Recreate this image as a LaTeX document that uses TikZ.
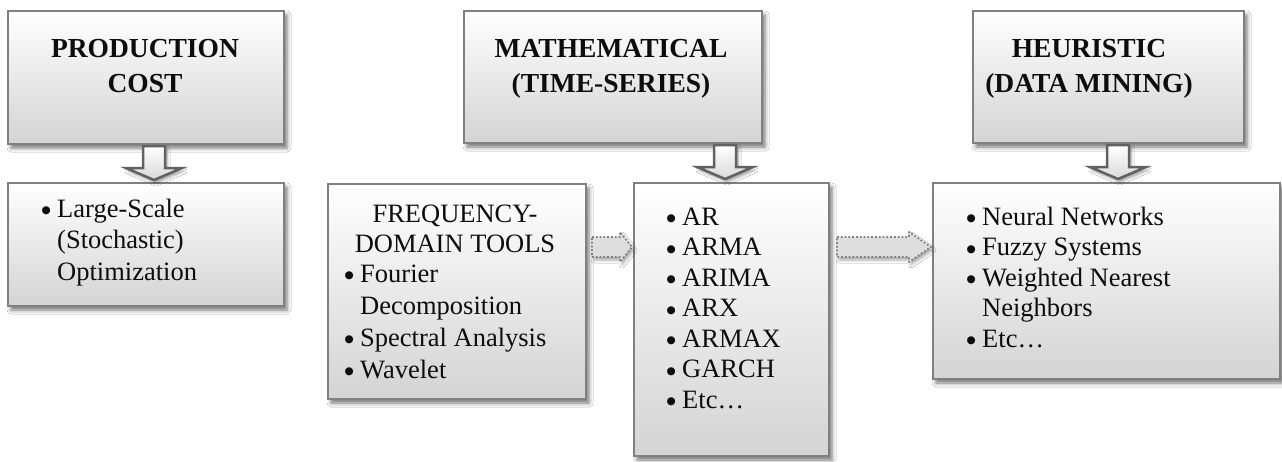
\documentclass[tikz,border=0pt]{standalone}
\usepackage{fontspec}
\setmainfont{Liberation Serif}
\newfontfamily\dvsans{DejaVu Sans}
\usetikzlibrary{shadows.blur,calc}
\newcommand{\fl}{\rule{0pt}{21pt}}
\newcommand{\bl}{\makebox[16pt][l]{\hspace*{0.5pt}\raisebox{3.5pt}{\dvsans\fontsize{10.5}{0}\selectfont ●}}}
\newcommand{\ind}{\hspace*{16pt}}
\begin{document}
\begin{tikzpicture}[x=1pt,y=-1pt,
  box/.style={draw=black!50, line width=2pt, top color=white, bottom color=black!17,
    blur shadow={shadow xshift=3pt, shadow yshift=-4pt, shadow blur radius=4pt, shadow opacity=55},
    inner sep=0pt, anchor=north west},
  ttl/.style={font=\fontsize{27.5}{35}\selectfont\bfseries, align=center, inner sep=0pt, anchor=north, text=black!95},
  lst/.style={font=\fontsize{26.5}{30.5}\selectfont, align=left, inner sep=0pt, anchor=north west, text=black!95},
  downarrow/.style={draw=black!62, line width=2.5pt, top color=white, bottom color=black!15, line join=miter,
    blur shadow={shadow xshift=2pt, shadow yshift=-3pt, shadow blur radius=3pt, shadow opacity=40}},
  dotarrow/.style={draw=black!50, dotted, line width=1.8pt, fill=black!13, line join=round,
    blur shadow={shadow xshift=2pt, shadow yshift=-3pt, shadow blur radius=3pt, shadow opacity=35}}]
\useasboundingbox (0,0) rectangle (1282,461);
\fill[white] (0,0) rectangle (1282,461);

% boxes
\node[box, minimum width=276pt, minimum height=133pt] (prod) at (7,10) {};
\node[box, minimum width=276pt, minimum height=123pt] (large) at (7,182) {};
\node[box, minimum width=298pt, minimum height=132pt] (math) at (463,10) {};
\node[box, minimum width=258pt, minimum height=215pt] (freq) at (327,183) {};
\node[box, minimum width=195pt, minimum height=273pt] (ar) at (633,182) {};
\node[box, minimum width=271pt, minimum height=132pt] (heur) at (972,10) {};
\node[box, minimum width=347pt, minimum height=196pt] (nn) at (932,182) {};

% titles
\node[ttl] (prodt) at (145,36) {\fl PRODUCTION\\COST};
\node[ttl] (matht) at (611,36) {\fl MATHEMATICAL\\(TIME-SERIES)};
\node[ttl] (heurt) at (1089,36) {\fl HEURISTIC\\(DATA MINING)};

% lists
\node[lst, font=\fontsize{26.5}{31.5}\selectfont] (largel) at (41,196) {\fl\bl Large-Scale\\\ind(Stochastic)\\\ind Optimization};
\node[lst, anchor=north, align=center] (freqh) at (455,201) {\fl FREQUENCY-\\DOMAIN TOOLS};
\node[lst, font=\fontsize{26.5}{32}\selectfont] (freql) at (344,261) {\fl\bl Fourier\\\ind Decomposition\\\bl Spectral Analysis\\\bl Wavelet};
\node[lst] (arl) at (666,204) {\fl\bl AR\\\bl ARMA\\\bl ARIMA\\\bl ARX\\\bl ARMAX\\\bl GARCH\\\bl Etc\dots};
\node[lst] (nnl) at (966,204) {\fl\bl Neural Networks\\\bl Fuzzy Systems\\\bl Weighted Nearest\\\ind Neighbors\\\bl Etc\dots};

% block arrows down
\draw[downarrow] ([xshift=8pt,yshift=-1pt]prod.south) ++(-11,0) -- ++(22,0) -- ++(0,22) -- ++(17,0) -- ++(-28,12) -- ++(-28,-12) -- ++(17,0) -- cycle;
\draw[downarrow] ([xshift=112pt,yshift=-1pt]math.south) ++(-11,0) -- ++(22,0) -- ++(0,22) -- ++(17,0) -- ++(-28,12) -- ++(-28,-12) -- ++(17,0) -- cycle;
\draw[downarrow] ([xshift=9.5pt,yshift=-1pt]heur.south) ++(-11,0) -- ++(22,0) -- ++(0,22) -- ++(17,0) -- ++(-28,12) -- ++(-28,-12) -- ++(17,0) -- cycle;

% dotted arrows
\draw[dotarrow] (freq.north east) ++(5,54) -- ++(28,0) -- ++(0,-5) -- ++(12,15) -- ++(-12,15) -- ++(0,-5) -- ++(-28,0) -- cycle;
\draw[dotarrow] (ar.north east) ++(7,55) -- ++(72,0) -- ++(0,-5) -- ++(22,15) -- ++(-22,15) -- ++(0,-5) -- ++(-72,0) -- cycle;
\end{tikzpicture}
\end{document}
